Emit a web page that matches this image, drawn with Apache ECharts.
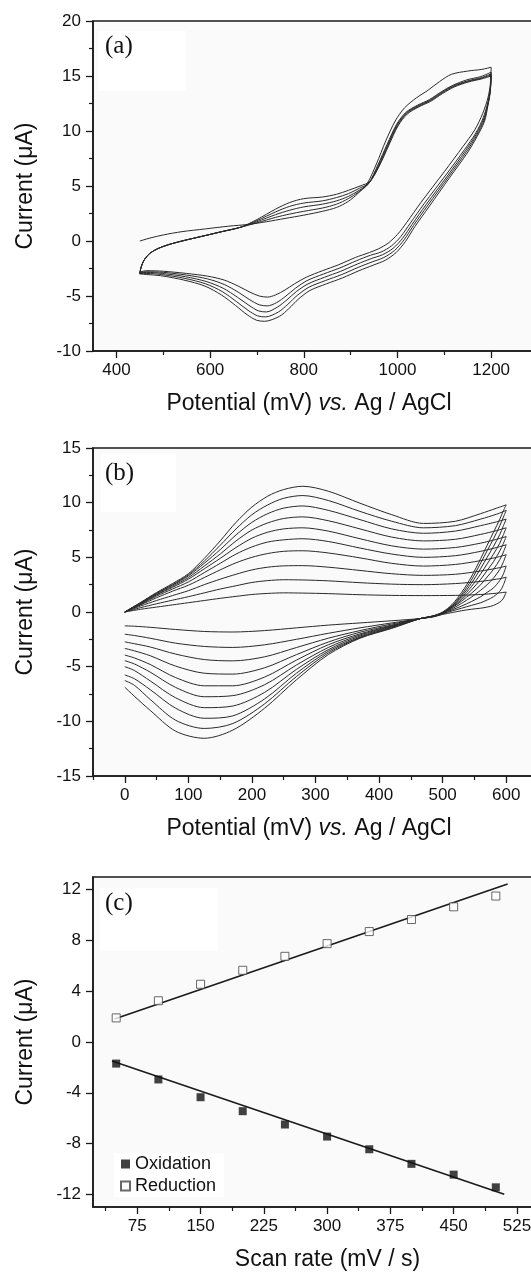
<!DOCTYPE html>
<html><head><meta charset="utf-8">
<script src="https://cdn.jsdelivr.net/npm/echarts@6/dist/echarts.min.js"></script>
<style>html,body{margin:0;padding:0;background:#fff}#c{width:531px;height:1273px}</style>
</head><body><div id="c"></div>
<script>
// ---------- Panel (a): repeated CV cycles, [potential mV, current uA] ----------
const anodicStartA = [[450,-2.95],[452,-2.5],[456,-2.0],[462,-1.55],[472,-1.1],[488,-0.7],[510,-0.35],[540,0.0],[580,0.4],[625,0.85],[665,1.25]];
const cycle1Anodic = [[450,0],[470,0.25],[500,0.55],[540,0.85],[590,1.1],[640,1.35],[680,1.5],[720,1.75],[760,2.05],[800,2.35],[840,2.7],[870,3.05],[895,3.6],[915,4.3],[935,5.2],[955,7.0],[975,9.1],[995,10.9],[1015,12.1],[1040,13.0],[1065,13.7],[1090,14.5],[1115,15.15],[1150,15.45],[1180,15.6],[1200,15.8]];
const cycle2Anodic = [[700,1.65],[740,2.15],[770,2.45],[800,2.7],[840,3.0],[870,3.35],[895,3.85],[917,4.45],[938,5.2],[958,6.9],[978,8.8],[998,10.6],[1018,11.7],[1043,12.35],[1068,12.85],[1093,13.55],[1118,14.15],[1148,14.65],[1178,14.95],[1200,15.35]];
const cycle3Anodic = [[700,1.75],[740,2.4],[770,2.8],[800,3.1],[840,3.35],[870,3.65],[895,4.05],[918,4.6],[939,5.25],[959,6.85],[979,8.75],[999,10.55],[1019,11.65],[1044,12.3],[1069,12.8],[1094,13.5],[1119,14.1],[1149,14.55],[1179,14.85],[1200,15.2]];
const cycle4Anodic = [[700,1.85],[740,2.65],[770,3.15],[800,3.45],[840,3.65],[870,3.95],[895,4.3],[919,4.8],[940,5.3],[960,6.8],[980,8.7],[1000,10.5],[1020,11.6],[1045,12.25],[1070,12.75],[1095,13.45],[1120,14.05],[1150,14.5],[1180,14.8],[1200,15.1]];
const cycle5Anodic = [[700,1.95],[740,2.9],[770,3.5],[800,3.85],[840,4.0],[870,4.25],[895,4.6],[920,5.0],[941,5.4],[961,6.8],[981,8.65],[1001,10.45],[1021,11.55],[1046,12.2],[1071,12.7],[1096,13.4],[1121,14.0],[1151,14.45],[1181,14.75],[1200,15.0]];
const cycle1Cathodic = [[1198,14.2],[1193,13.0],[1182,11.6],[1165,10.1],[1140,8.6],[1100,6.3],[1050,3.5],[1020,1.7],[1000,0.6],[980,-0.2],[960,-0.7],[940,-1.05],[910,-1.5],[875,-2.15],[840,-2.7],[805,-3.3],[780,-3.9],[760,-4.45],[740,-4.9],[722,-5.1],[705,-5.0],[685,-4.65],[660,-4.1],[630,-3.55],[595,-3.2],[550,-2.95],[500,-2.75],[465,-2.7],[452,-2.8],[450,-2.9]];
const cycle2Cathodic = [[1198,13.8],[1193,12.6],[1183,11.2],[1167,9.8],[1143,8.3],[1105,6.1],[1057,3.4],[1027,1.6],[1007,0.4],[987,-0.45],[965,-1.0],[942,-1.3],[912,-1.8],[877,-2.45],[842,-3.0],[807,-3.6],[782,-4.3],[762,-5.0],[742,-5.6],[722,-5.9],[705,-5.8],[685,-5.35],[660,-4.65],[630,-3.95],[595,-3.45],[550,-3.1],[500,-2.85],[465,-2.8],[452,-2.85],[450,-2.95]];
const cycle3Cathodic = [[1198,13.7],[1193,12.5],[1184,11.1],[1168,9.7],[1145,8.2],[1108,6.0],[1061,3.3],[1031,1.5],[1011,0.25],[991,-0.65],[968,-1.25],[944,-1.6],[914,-2.1],[879,-2.75],[844,-3.3],[809,-3.9],[784,-4.6],[764,-5.35],[744,-6.0],[720,-6.45],[703,-6.35],[683,-5.85],[658,-5.1],[628,-4.3],[593,-3.7],[548,-3.25],[498,-2.95],[465,-2.85],[452,-2.9],[450,-3.0]];
const cycle4Cathodic = [[1198,13.6],[1193,12.4],[1185,11.0],[1169,9.6],[1147,8.1],[1110,5.9],[1064,3.2],[1034,1.4],[1014,0.1],[994,-0.85],[971,-1.5],[946,-1.9],[916,-2.4],[881,-3.05],[846,-3.6],[811,-4.2],[786,-4.95],[766,-5.75],[746,-6.45],[718,-6.9],[701,-6.8],[681,-6.3],[656,-5.5],[626,-4.6],[591,-3.9],[546,-3.4],[496,-3.05],[465,-2.95],[452,-2.95],[450,-3.0]];
const cycle5Cathodic = [[1198,13.5],[1193,12.3],[1186,10.9],[1170,9.5],[1149,8.0],[1112,5.8],[1067,3.1],[1037,1.3],[1017,-0.05],[997,-1.05],[974,-1.75],[948,-2.2],[918,-2.7],[883,-3.35],[848,-3.9],[813,-4.5],[788,-5.3],[768,-6.15],[748,-6.85],[716,-7.3],[699,-7.2],[679,-6.7],[654,-5.85],[624,-4.9],[589,-4.1],[544,-3.55],[494,-3.15],[465,-3.05],[452,-3.0],[450,-3.0]];
const xLabelsA = [400,600,800,1000,1200];
const xMinorA = [500,700,900,1100];

// ---------- Panel (b): CVs at 50..500 mV/s ----------
const potUpB  = [0,25,50,75,100,125,150,175,200,225,250,280,320,370,420,470,520,560,585,600];
const potLowB = [595,590,580,570,560,545,530,515,500,485,465,420,370,320,270,220,170,125,80,40,15,0];
const up50  = [0,0.25,0.45,0.65,0.85,1.05,1.25,1.43,1.6,1.7,1.75,1.73,1.68,1.58,1.52,1.5,1.52,1.6,1.72,1.82];
const up100 = [0,0.4,0.75,1.08,1.4,1.75,2.1,2.4,2.7,2.87,2.95,2.93,2.85,2.68,2.55,2.5,2.6,2.8,3.0,3.18];
const up150 = [0,0.55,1.05,1.5,1.95,2.5,3.0,3.45,3.85,4.1,4.22,4.24,4.1,3.8,3.5,3.35,3.45,3.75,4.0,4.2];
const up200 = [0,0.65,1.3,1.9,2.45,3.15,3.85,4.5,5.0,5.35,5.55,5.6,5.4,4.95,4.45,4.2,4.35,4.7,5.0,5.24];
const up250 = [0,0.7,1.45,2.1,2.75,3.6,4.45,5.3,5.95,6.4,6.6,6.7,6.45,5.85,5.3,5.0,5.15,5.55,5.9,6.15];
const up300 = [0,0.75,1.55,2.25,3.0,3.95,4.9,5.9,6.75,7.3,7.6,7.7,7.4,6.7,6.05,5.75,5.9,6.3,6.65,6.9];
const up350 = [0,0.8,1.6,2.35,3.15,4.2,5.3,6.5,7.5,8.15,8.55,8.7,8.35,7.6,6.85,6.5,6.65,7.1,7.45,7.7];
const up400 = [0,0.82,1.68,2.45,3.3,4.45,5.7,7.05,8.2,9.0,9.5,9.7,9.3,8.45,7.6,7.2,7.4,7.9,8.25,8.5];
const up450 = [0,0.85,1.72,2.5,3.4,4.65,6.1,7.6,8.9,9.8,10.4,10.65,10.2,9.2,8.3,7.7,7.9,8.5,8.95,9.3];
const up500 = [0,0.88,1.78,2.6,3.5,4.9,6.5,8.2,9.6,10.6,11.2,11.5,11.05,9.95,8.9,8.1,8.3,9.0,9.5,9.8];
const low50  = [1.2,0.9,0.6,0.45,0.35,0.25,0.12,-0.05,-0.22,-0.45,-0.6,-0.8,-1.0,-1.2,-1.45,-1.7,-1.83,-1.78,-1.6,-1.4,-1.3,-1.27];
const low100 = [2.4,1.9,1.4,1.1,0.85,0.6,0.35,0.1,-0.18,-0.43,-0.6,-1.0,-1.45,-1.95,-2.5,-3.0,-3.24,-3.15,-2.85,-2.4,-2.15,-2.03];
const low150 = [3.4,2.9,2.2,1.8,1.4,0.95,0.55,0.2,-0.15,-0.42,-0.6,-1.1,-1.7,-2.4,-3.25,-4.1,-4.47,-4.35,-3.85,-3.2,-2.9,-2.73];
const low200 = [4.5,3.9,3.1,2.5,2.0,1.35,0.8,0.3,-0.12,-0.41,-0.6,-1.2,-1.85,-2.75,-3.9,-5.1,-5.68,-5.6,-4.95,-4.0,-3.55,-3.33];
const low250 = [5.4,4.8,3.9,3.2,2.5,1.7,1.0,0.4,-0.1,-0.4,-0.6,-1.25,-2.0,-3.0,-4.4,-5.95,-6.75,-6.75,-6.0,-4.8,-4.2,-3.94];
const low300 = [6.2,5.6,4.6,3.8,3.0,2.0,1.15,0.45,-0.08,-0.39,-0.6,-1.3,-2.1,-3.25,-4.85,-6.65,-7.65,-7.75,-6.9,-5.5,-4.75,-4.45];
const low350 = [7.0,6.3,5.3,4.4,3.5,2.3,1.3,0.5,-0.07,-0.38,-0.6,-1.35,-2.2,-3.45,-5.25,-7.35,-8.6,-8.75,-7.85,-6.3,-5.35,-5.0];
const low400 = [7.8,7.1,6.0,5.0,4.0,2.6,1.45,0.55,-0.05,-0.37,-0.6,-1.4,-2.3,-3.6,-5.6,-7.95,-9.5,-9.72,-8.8,-7.1,-6.1,-5.76];
const low450 = [8.6,7.9,6.7,5.6,4.5,2.9,1.6,0.6,-0.03,-0.36,-0.6,-1.45,-2.35,-3.75,-5.9,-8.4,-10.2,-10.65,-9.9,-8.0,-6.7,-6.27];
const low500 = [9.2,8.5,7.3,6.1,4.9,3.2,1.8,0.7,0.0,-0.35,-0.6,-1.5,-2.4,-3.9,-6.2,-8.8,-10.8,-11.55,-10.9,-9.0,-7.7,-6.88];
const xLabelsB = [0,100,200,300,400,500,600];
const xMinorB = [-50,50,150,250,350,450,550];

// ---------- Panel (c): peak current vs scan rate ----------
const scanRates = [50,100,150,200,250,300,350,400,450,500];
const oxidation = [-1.7,-2.95,-4.35,-5.45,-6.5,-7.45,-8.45,-9.6,-10.45,-11.45];
const reduction = [1.9,3.25,4.55,5.65,6.75,7.75,8.7,9.65,10.65,11.5];
const oxidationFit = [[45,-1.5],[510,-12.0]];
const reductionFit = [[48,1.82],[514,12.45]];
const xLabelsC = [75,150,225,300,375,450,525];
const xMinorC = [37.5,112.5,187.5,262.5,337.5,412.5,487.5];
const yLabelsC = [-12,-8,-4,0,4,8,12];
const yMinorC = [-10,-6,-2,2,6,10];

// ---------- build ----------
const FONT = "'Liberation Sans', Arial, sans-serif";
const INK = '#1a1a1a';
const curveStyle = {color:'#2a2a2a', width:1};
const plain = v => String(v);

function grid(top, height){
  return {left:93, top, width:445, height, outerBoundsMode:'none', containLabel:false,
          show:true, backgroundColor:'#fafafa', borderColor:INK, borderWidth:1.5};
}
function nameStyle(pad){
  return {fontSize:23, fontFamily:FONT, color:'#111', padding:pad,
          rich:{i:{fontSize:23, fontFamily:FONT, fontStyle:'italic', color:'#111'}}};
}
function mainX(gi, min, max, labels, name, pad){
  return {type:'value', gridIndex:gi, min, max, position:'bottom',
    axisLine:{show:true, onZero:false, lineStyle:{color:INK, width:1.6}},
    axisTick:{show:true, inside:false, length:7, customValues:labels, lineStyle:{color:INK, width:1.3}},
    axisLabel:{show:true, customValues:labels, formatter:plain, margin:11, fontSize:17, fontFamily:FONT, color:'#111'},
    splitLine:{show:false},
    name, nameLocation:'middle', nameGap:41, nameTextStyle:nameStyle(pad)};
}
function minorX(gi, min, max, vals){
  return {type:'value', gridIndex:gi, min, max, position:'bottom',
    axisLine:{show:false, onZero:false},
    axisTick:{show:true, inside:false, length:4, customValues:vals, lineStyle:{color:INK, width:1.2}},
    axisLabel:{show:false}, splitLine:{show:false}};
}
function yAx(gi, min, max, interval){
  return {type:'value', gridIndex:gi, min, max, interval,
    axisLine:{show:true, onZero:false, lineStyle:{color:INK, width:1.6}},
    axisTick:{show:true, inside:false, length:7, lineStyle:{color:INK, width:1.3}},
    minorTick:{show:true, splitNumber:2, length:4, lineStyle:{color:INK, width:1.2}},
    axisLabel:{margin:12, fontSize:17, fontFamily:FONT, color:'#111', formatter:plain},
    splitLine:{show:false}, minorSplitLine:{show:false},
    name:'Current (μA)', nameLocation:'middle', nameGap:56, nameTextStyle:{fontSize:23, fontFamily:FONT, color:'#111'}};
}

const cyclesA = [
  cycle1Anodic.concat(cycle1Cathodic),
  anodicStartA.concat(cycle2Anodic, cycle2Cathodic),
  anodicStartA.concat(cycle3Anodic, cycle3Cathodic),
  anodicStartA.concat(cycle4Anodic, cycle4Cathodic),
  anodicStartA.concat(cycle5Anodic, cycle5Cathodic)
];
const upsB = [up50,up100,up150,up200,up250,up300,up350,up400,up450,up500];
const lowsB = [low50,low100,low150,low200,low250,low300,low350,low400,low450,low500];

const series = [];
cyclesA.forEach(d => series.push({type:'line', xAxisIndex:0, yAxisIndex:0, data:d, showSymbol:false, symbol:'none', smooth:0.3, lineStyle:curveStyle, silent:true}));
upsB.forEach((u, i) => {
  const d = potUpB.map((p, k) => [p, u[k]]).concat(potLowB.map((p, k) => [p, lowsB[i][k]]));
  series.push({type:'line', xAxisIndex:2, yAxisIndex:1, data:d, showSymbol:false, symbol:'none', smooth:0.3, lineStyle:curveStyle, silent:true});
});
series.push({type:'line', xAxisIndex:4, yAxisIndex:2, data:oxidationFit, showSymbol:false, symbol:'none', lineStyle:{color:INK, width:1.6}, silent:true, z:3});
series.push({type:'line', xAxisIndex:4, yAxisIndex:2, data:reductionFit, showSymbol:false, symbol:'none', lineStyle:{color:INK, width:1.6}, silent:true, z:3});
series.push({name:'Oxidation', type:'scatter', xAxisIndex:4, yAxisIndex:2, symbol:'rect', symbolSize:8,
  data:scanRates.map((s,i)=>[s, oxidation[i]]), itemStyle:{color:'#111'}, z:4});
series.push({name:'Reduction', type:'scatter', xAxisIndex:4, yAxisIndex:2, symbol:'rect', symbolSize:8,
  data:scanRates.map((s,i)=>[s, reduction[i]]), itemStyle:{color:'#fff', borderColor:'#444', borderWidth:1}, z:4});

const yC = yAx(2, -13, 13, 4);
delete yC.interval;
yC.axisTick.customValues = yLabelsC;
yC.axisLabel.customValues = yLabelsC;
yC.minorTick = {show:false};

const option = {
  animation:false,
  backgroundColor:'#ffffff',
  grid:[grid(21,330), grid(448,328), grid(877,330)],
  xAxis:[
    mainX(0, 350, 1300, xLabelsA, 'Potential (mV) {i|vs.} Ag / AgCl', [0,13,0,0]),
    minorX(0, 350, 1300, xMinorA),
    mainX(1, -50, 650, xLabelsB, 'Potential (mV) {i|vs.} Ag / AgCl', [0,13,0,0]),
    minorX(1, -50, 650, xMinorB),
    mainX(2, 22.5, 550, xLabelsC, 'Scan rate (mV / s)', [0,0,0,24]),
    minorX(2, 22.5, 550, xMinorC)
  ],
  yAxis:[
    yAx(0, -10, 20, 5),
    yAx(1, -15, 15, 5),
    yC,
    {type:'value', gridIndex:2, min:-13, max:13, axisLine:{show:false, onZero:false},
     axisTick:{show:true, inside:false, length:4, customValues:yMinorC, lineStyle:{color:INK, width:1.2}},
     axisLabel:{show:false}, splitLine:{show:false}}
  ],
  legend:{data:['Oxidation','Reduction'], orient:'vertical', left:114, top:1153, itemWidth:9, itemHeight:9, itemGap:4,
    icon:'rect', backgroundColor:'#fff', padding:[2,8,2,6],
    textStyle:{fontSize:18, fontFamily:FONT, color:'#111'}},
  graphic:[
    {type:'rect', z:1, shape:{x:98, y:31, width:88, height:60}, style:{fill:'#ffffff'}, silent:true},
    {type:'rect', z:1, shape:{x:101, y:454, width:75, height:58}, style:{fill:'#ffffff'}, silent:true},
    {type:'rect', z:1, shape:{x:100, y:888, width:118, height:63}, style:{fill:'#ffffff'}, silent:true},
    {type:'text', z:50, style:{x:105, y:46, text:'(a)', fontSize:25, fontFamily:"'Liberation Serif', 'Times New Roman', serif", fill:'#111', verticalAlign:'middle'}},
    {type:'text', z:50, style:{x:105, y:473, text:'(b)', fontSize:25, fontFamily:"'Liberation Serif', 'Times New Roman', serif", fill:'#111', verticalAlign:'middle'}},
    {type:'text', z:50, style:{x:105, y:903, text:'(c)', fontSize:25, fontFamily:"'Liberation Serif', 'Times New Roman', serif", fill:'#111', verticalAlign:'middle'}}
  ],
  series
};
const chart = echarts.init(document.getElementById('c'), null, {renderer:'canvas'});
chart.setOption(option);
</script></body></html>
